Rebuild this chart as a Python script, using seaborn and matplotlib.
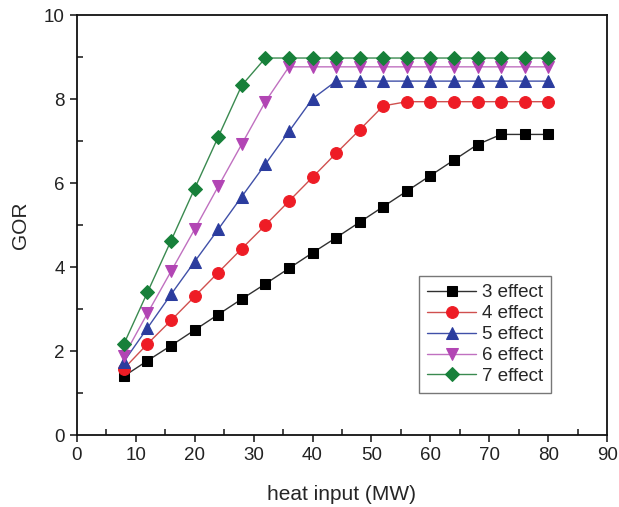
import numpy as np
import pandas as pd
import matplotlib
matplotlib.use("Agg")
import matplotlib.pyplot as plt
import seaborn as sns
from matplotlib.ticker import MultipleLocator

heat_input = [8, 12, 16, 20, 24, 28, 32, 36, 40, 44, 48, 52, 56, 60, 64, 68, 72, 76, 80]
gor_3 = [1.40, 1.77, 2.13, 2.50, 2.87, 3.24, 3.60, 3.97, 4.34, 4.70, 5.07, 5.44, 5.81, 6.18, 6.55, 6.92, 7.16, 7.16, 7.16]
gor_4 = [1.58, 2.17, 2.73, 3.30, 3.87, 4.44, 5.00, 5.57, 6.14, 6.71, 7.27, 7.84, 7.94, 7.94, 7.94, 7.94, 7.94, 7.94, 7.94]
gor_5 = [1.75, 2.55, 3.35, 4.13, 4.90, 5.68, 6.45, 7.23, 8.01, 8.43, 8.43, 8.43, 8.43, 8.43, 8.43, 8.43, 8.43, 8.43, 8.43]
gor_6 = [1.88, 2.90, 3.90, 4.90, 5.92, 6.93, 7.94, 8.77, 8.77, 8.77, 8.77, 8.77, 8.77, 8.77, 8.77, 8.77, 8.77, 8.77, 8.77]
gor_7 = [2.17, 3.40, 4.63, 5.87, 7.10, 8.33, 8.98, 8.98, 8.98, 8.98, 8.98, 8.98, 8.98, 8.98, 8.98, 8.98, 8.98, 8.98, 8.98]
series_names = ["3 effect", "4 effect", "5 effect", "6 effect", "7 effect"]
series_values = [gor_3, gor_4, gor_5, gor_6, gor_7]

rows = []
for name, vals in zip(series_names, series_values):
    for x, y in zip(heat_input, vals):
        rows.append({"heat input": x, "GOR": y, "series": name})
df = pd.DataFrame(rows)

sns.set_style("white")
plt.rcParams['font.family'] = ['Liberation Sans', 'DejaVu Sans']

marker_colors = ["#000000", "#ee1c25", "#2b3c9e", "#b245b4", "#17803a"]
line_colors = ["#303030", "#d0504f", "#4050a8", "#c070c0", "#3a8a50"]
markers = ["s", "o", "^", "v", "D"]
msizes = [7, 8.5, 8.5, 8.5, 7.5]

fig = plt.figure(figsize=(6.19, 5.07), dpi=100)
ax = fig.add_axes([0.124, 0.142, 0.857, 0.828])

for i, name in enumerate(series_names):
    sub = df[df["series"] == name]
    sns.lineplot(data=sub, x="heat input", y="GOR", ax=ax, color=line_colors[i],
                 marker=markers[i], markersize=msizes[i], markerfacecolor=marker_colors[i],
                 markeredgecolor=marker_colors[i], linewidth=1.0, label=name)

ax.set_xlim(0, 90)
ax.set_ylim(0, 10)
ax.xaxis.set_major_locator(MultipleLocator(10))
ax.xaxis.set_minor_locator(MultipleLocator(5))
ax.yaxis.set_major_locator(MultipleLocator(2))
ax.yaxis.set_minor_locator(MultipleLocator(1))
ax.tick_params(axis='both', which='major', direction='out', length=5, width=1.2,
               labelsize=13.5, colors='#222222', bottom=True, left=True)
ax.tick_params(axis='both', which='minor', direction='in', length=4, width=1.2,
               bottom=True, left=True)
for s in ax.spines.values():
    s.set_linewidth(1.3)
    s.set_color('#111111')
ax.set_xlabel("heat input (MW)", fontsize=15, labelpad=15)
ax.set_ylabel("GOR", fontsize=15, labelpad=10)

leg = ax.legend(loc='upper left', bbox_to_anchor=(0.645, 0.379), fontsize=13.5,
                frameon=True, fancybox=False, handlelength=2.6, handletextpad=0.3,
                borderpad=0.45, labelspacing=0.2, borderaxespad=0)
leg.get_frame().set_edgecolor('#555555')
leg.get_frame().set_linewidth(1.0)

fig.savefig("out.png", dpi=100)
